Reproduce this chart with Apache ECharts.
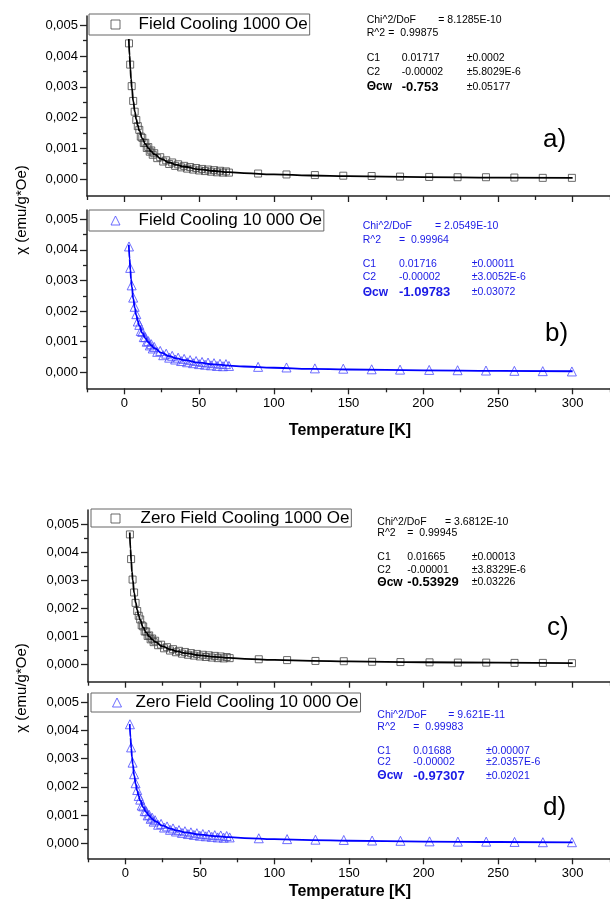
<!DOCTYPE html>
<html><head><meta charset="utf-8">
<script src="https://cdn.jsdelivr.net/npm/echarts@6/dist/echarts.min.js"></script>
<style>html,body{margin:0;padding:0;background:#fff}#c{width:610px;height:899px}</style>
</head><body><div id="c"></div>
<script>
// ---- data ----
const temps = [3.1,3.9,4.9,5.9,6.9,8.0,9.0,10,11,12,13,14,15,16,17,18,19,20,22,24,26,28,30,32,34,36,38,40,42,44,46,48,50,52,54,56,58,60,62,64,66,68,70,89.5,108.5,127.5,146.5,165.5,184.5,204,223,242,261,280,299.5];
const chiA = [0.00441,0.00372,0.00302,0.00254,0.00219,0.00192,0.00172,
0.00160,0.00138,0.00134,0.00117,0.00118,0.00101,0.00104,0.00089,0.00093,0.00079,0.00084,
0.00068,0.00071,0.00057,0.00061,0.00049,0.00054,0.00043,0.00048,0.00038,0.00043,0.00034,0.00039,0.00031,0.00036,0.00028,0.00033,0.00026,0.00031,0.00024,0.00029,0.00022,0.00027,0.00021,0.00025,0.00021,
0.00018,0.00015,0.00013,0.00011,0.00010,0.00008,0.00007,0.00006,0.00006,0.00005,0.00004,0.00004];
const chiB = [0.00411,0.00341,0.00284,0.00244,0.00214,0.00190,0.00166,
0.00155,0.00135,0.00132,0.00115,0.00115,0.00100,0.00102,0.00088,0.00092,0.00078,0.00083,
0.00067,0.00070,0.00056,0.00061,0.00048,0.00054,0.00042,0.00048,0.00037,0.00044,0.00033,0.00040,0.00030,0.00037,0.00027,0.00034,0.00025,0.00032,0.00023,0.00030,0.00021,0.00028,0.00020,0.00027,0.00021,
0.00018,0.00016,0.00013,0.00012,0.00010,0.00009,0.00008,0.00007,0.00006,0.00005,0.00004,0.00003];
const chiC = [0.00463,0.00375,0.00302,0.00256,0.00219,0.00190,0.00173,
0.00160,0.00139,0.00135,0.00117,0.00117,0.00101,0.00103,0.00089,0.00092,0.00079,0.00084,
0.00068,0.00070,0.00057,0.00061,0.00049,0.00054,0.00043,0.00048,0.00038,0.00044,0.00034,0.00040,0.00031,0.00037,0.00028,0.00034,0.00026,0.00032,0.00024,0.00030,0.00022,0.00028,0.00021,0.00026,0.00022,
0.00018,0.00015,0.00012,0.00011,0.00009,0.00008,0.00007,0.00006,0.00006,0.00005,0.00005,0.00004];
const chiD = [0.00422,0.00340,0.00286,0.00245,0.00213,0.00189,0.00168,
0.00155,0.00134,0.00131,0.00114,0.00114,0.00099,0.00101,0.00087,0.00091,0.00077,0.00082,
0.00066,0.00069,0.00056,0.00060,0.00048,0.00053,0.00042,0.00047,0.00037,0.00043,0.00033,0.00039,0.00030,0.00036,0.00027,0.00033,0.00025,0.00031,0.00023,0.00029,0.00021,0.00028,0.00020,0.00026,0.00021,
0.00018,0.00015,0.00013,0.00012,0.00010,0.00009,0.00007,0.00006,0.00006,0.00005,0.00004,0.00004];

const fitT = [3,3.5,4,4.5,5,6,7,8,9,10,12,14,16,18,20,25,30,35,40,50,60,70,80,100,125,150,200,250,300];
const fitA = [0.004555,0.004017,0.003592,0.003249,0.002965,0.002523,0.002195,0.001942,0.001741,0.001577,0.001326,0.001144,0.001005,0.000896,0.000807,0.000647,0.000538,0.000460,0.000401,0.000318,0.000263,0.000223,0.000193,0.000150,0.000117,0.000094,0.000066,0.000049,0.000037];
const fitB = [0.004167,0.003712,0.003346,0.003045,0.002794,0.002398,0.002099,0.001866,0.001679,0.001526,0.001290,0.001117,0.000984,0.000879,0.000793,0.000638,0.000532,0.000455,0.000398,0.000316,0.000261,0.000221,0.000192,0.000150,0.000116,0.000094,0.000065,0.000048,0.000037];
const fitC = [0.004695,0.004112,0.003658,0.003294,0.002996,0.002536,0.002199,0.001940,0.001735,0.001570,0.001318,0.001135,0.000997,0.000888,0.000801,0.000642,0.000535,0.000459,0.000401,0.000319,0.000265,0.000226,0.000197,0.000156,0.000123,0.000101,0.000073,0.000057,0.000045];
const fitD = [0.004229,0.003754,0.003374,0.003064,0.002806,0.002401,0.002097,0.001861,0.001673,0.001518,0.001281,0.001107,0.000975,0.000870,0.000785,0.000630,0.000525,0.000449,0.000392,0.000311,0.000257,0.000218,0.000188,0.000147,0.000114,0.000092,0.000064,0.000047,0.000036];

const xMajor = [0,50,100,150,200,250,300];
const xMinor = [-25,25,75,125,175,225,275,325];
const yMajor = [0,0.001,0.002,0.003,0.004,0.005];
const yMinor = [0.0005,0.0015,0.0025,0.0035,0.0045];

const names = ['Field Cooling 1000 Oe','Field Cooling 10 000 Oe','Zero Field Cooling 1000 Oe','Zero Field Cooling 10 000 Oe'];
const panelLetters = ['a)','b)','c)','d)'];

const stats = [
  {chi:'= 8.1285E-10', r2:'=  0.99875', c1:['0.01717','\u00b10.0002'], c2:['-0.00002','\u00b15.8029E-6'], th:['-0.753','\u00b10.05177']},
  {chi:'= 2.0549E-10', r2:'=  0.99964', c1:['0.01716','\u00b10.00011'], c2:['-0.00002','\u00b13.0052E-6'], th:['-1.09783','\u00b10.03072']},
  {chi:'= 3.6812E-10', r2:'=  0.99945', c1:['0.01665','\u00b10.00013'], c2:['-0.00001','\u00b13.8329E-6'], th:['-0.53929','\u00b10.03226']},
  {chi:'= 9.621E-11', r2:'=  0.99983', c1:['0.01688','\u00b10.00007'], c2:['-0.00002','\u00b12.0357E-6'], th:['-0.97307','\u00b10.02021']}
];

// ---- layout / style ----
const FF = "'Liberation Sans', Arial, sans-serif";
const BLUE = '#1a1ae6';
const grids = [
  {left:87, top:16, width:523, height:180},
  {left:87, top:210, width:523, height:178.3},
  {left:88, top:510, width:522, height:171.7},
  {left:88, top:693.8, width:522, height:164.5}
];
const yRanges = [[-0.00055,0.0053],[-0.00052,0.0053],[-0.00062,0.0055],[-0.00053,0.0053]];
const showXLabels = [false,true,false,true];
const chis = [chiA,chiB,chiC,chiD];
const fits = [fitA,fitB,fitC,fitD];
const isBlue = [false,true,false,true];

const xAxis = [], yAxis = [], series = [], legend = [];
for (let i=0;i<4;i++){
  const line = {show:true, onZero:false, lineStyle:{color:'#222', width:1.5}};
  xAxis.push({type:'value', gridIndex:i, min:-25, max:325, position:'bottom', axisLine:line,
    axisTick:{show:true, length:6, customValues:xMajor, lineStyle:{color:'#222', width:1.3}},
    axisLabel:{show:showXLabels[i], customValues:xMajor, margin:9, fontFamily:FF, fontSize:13, color:'#000'},
    splitLine:{show:false}});
  xAxis.push({type:'value', gridIndex:i, min:-25, max:325, position:'bottom', axisLine:{show:false, onZero:false},
    axisTick:{show:true, length:4, customValues:xMinor, lineStyle:{color:'#222', width:1.3}},
    axisLabel:{show:false}, splitLine:{show:false}});
  yAxis.push({type:'value', gridIndex:i, min:yRanges[i][0], max:yRanges[i][1], position:'left', axisLine:line,
    axisTick:{show:true, length:7, customValues:yMajor, lineStyle:{color:'#222', width:1.3}},
    axisLabel:{show:true, customValues:yMajor, margin:9, fontFamily:FF, fontSize:13, color:'#000',
      formatter:v=>v.toFixed(3).replace('.',',')},
    splitLine:{show:false}});
  yAxis.push({type:'value', gridIndex:i, min:yRanges[i][0], max:yRanges[i][1], position:'left', axisLine:{show:false, onZero:false},
    axisTick:{show:true, length:4, customValues:yMinor, lineStyle:{color:'#222', width:1.3}},
    axisLabel:{show:false}, splitLine:{show:false}});

  const mColor = isBlue[i] ? '#4a4aff' : '#444';
  series.push({type:'scatter', name:names[i], xAxisIndex:2*i, yAxisIndex:2*i,
    symbol: isBlue[i] ? 'triangle' : 'rect', symbolSize: isBlue[i] ? 9 : 7,
    itemStyle:{color:'rgba(255,255,255,0)', borderColor:mColor, borderWidth:1},
    data: temps.map((t,k)=>[t, chis[i][k]]), z:2, silent:true, animation:false});
  series.push({type:'line', name:'fit'+i, xAxisIndex:2*i, yAxisIndex:2*i, showSymbol:false, smooth:true, smoothMonotone:'x',
    lineStyle:{color: isBlue[i] ? '#0000ff' : '#000', width:1.8},
    data: fitT.map((t,k)=>[t, fits[i][k]]), z:3, silent:true, animation:false});
}

const legPos = [
  {left:89, top:14, padding:[2,2,2,21.5], tp:13.5},
  {left:89, top:210, padding:[2,2,2,21.5], tp:13.5},
  {left:91, top:509, padding:[1,2,0,19.5], tp:15.5},
  {left:91, top:693, padding:[1,2,1,21], tp:9}
];
for (let i=0;i<4;i++){
  legend.push({left:legPos[i].left, top:legPos[i].top, padding:legPos[i].padding, orient:'horizontal',
    backgroundColor:'#fff', borderColor:'#666', borderWidth:1, borderRadius:0,
    itemWidth:9, itemHeight:9, selectedMode:false,
    textStyle:{fontFamily:FF, fontSize:17, color:'#000', padding:[0,0,0,legPos[i].tp]},
    data:[{name:names[i], icon: isBlue[i] ? 'triangle' : 'rect',
      itemStyle:{color:'#fff', borderColor: isBlue[i] ? '#4a4aff' : '#444', borderWidth:1}}]});
}

// stats text
const statPos = [
  {lx:366.7, eq:438.3, r2x:388.3, vx:401.7, px:466.7, y:[20,33,58,72,87]},
  {lx:362.7, eq:435, r2x:399, vx:399, px:471.7, y:[226,240,264,277.3,292.3]},
  {lx:377.3, eq:445, r2x:407.3, vx:407.3, px:471.7, y:[522,533.3,557.3,570,582.3]},
  {lx:377.3, eq:448.3, r2x:413.3, vx:413.3, px:486, y:[715,726.7,750.7,762.3,776]}
];
const graphic = [];
function txt(x,y,s,font,color,align){
  graphic.push({type:'text', x:x, y:y, silent:true,
    style:{text:s, font:font, fill:color, align:align||'left', verticalAlign:'middle', textAlign:align||'left', textVerticalAlign:'middle'}});
}
const small = "10.5px " + FF, boldS = "bold 12px " + FF, boldV = "bold 13px " + FF;
for (let i=0;i<4;i++){
  const p = statPos[i], s = stats[i], col = isBlue[i] ? BLUE : '#000';
  txt(p.lx, p.y[0], 'Chi^2/DoF', small, col);
  txt(p.eq, p.y[0], s.chi, small, col);
  txt(p.lx, p.y[1], 'R^2', small, col);
  txt(p.r2x, p.y[1], s.r2, small, col);
  txt(p.lx, p.y[2], 'C1', small, col);
  txt(p.vx, p.y[2], s.c1[0], small, col);
  txt(p.px, p.y[2], s.c1[1], small, col);
  txt(p.lx, p.y[3], 'C2', small, col);
  txt(p.vx, p.y[3], s.c2[0], small, col);
  txt(p.px, p.y[3], s.c2[1], small, col);
  txt(p.lx, p.y[4], '\u0398cw', boldS, col);
  txt(p.vx, p.y[4], s.th[0], boldV, col);
  txt(p.px, p.y[4], s.th[1], small, col);
}
const letterPos = [[543,140],[545,334],[547,628],[543,808]];
for (let i=0;i<4;i++) txt(letterPos[i][0], letterPos[i][1], panelLetters[i], "26px " + FF, '#000');
// axis titles
[[22,210],[22,688]].forEach(p=>{
  graphic.push({type:'text', x:p[0], y:p[1], rotation:Math.PI/2, silent:true,
    style:{text:'\u03c7 (emu/g*Oe)', font:"15px " + FF, fill:'#000', align:'center', verticalAlign:'middle', textAlign:'center', textVerticalAlign:'middle'}});
});
txt(350, 431, 'Temperature [K]', "bold 16px " + FF, '#000', 'center');
txt(350, 892, 'Temperature [K]', "bold 16px " + FF, '#000', 'center');

const chart = echarts.init(document.getElementById('c'), null, {renderer:'canvas'});
chart.setOption({animation:false, grid:grids, xAxis:xAxis, yAxis:yAxis, series:series, legend:legend, graphic:graphic});
</script></body></html>
